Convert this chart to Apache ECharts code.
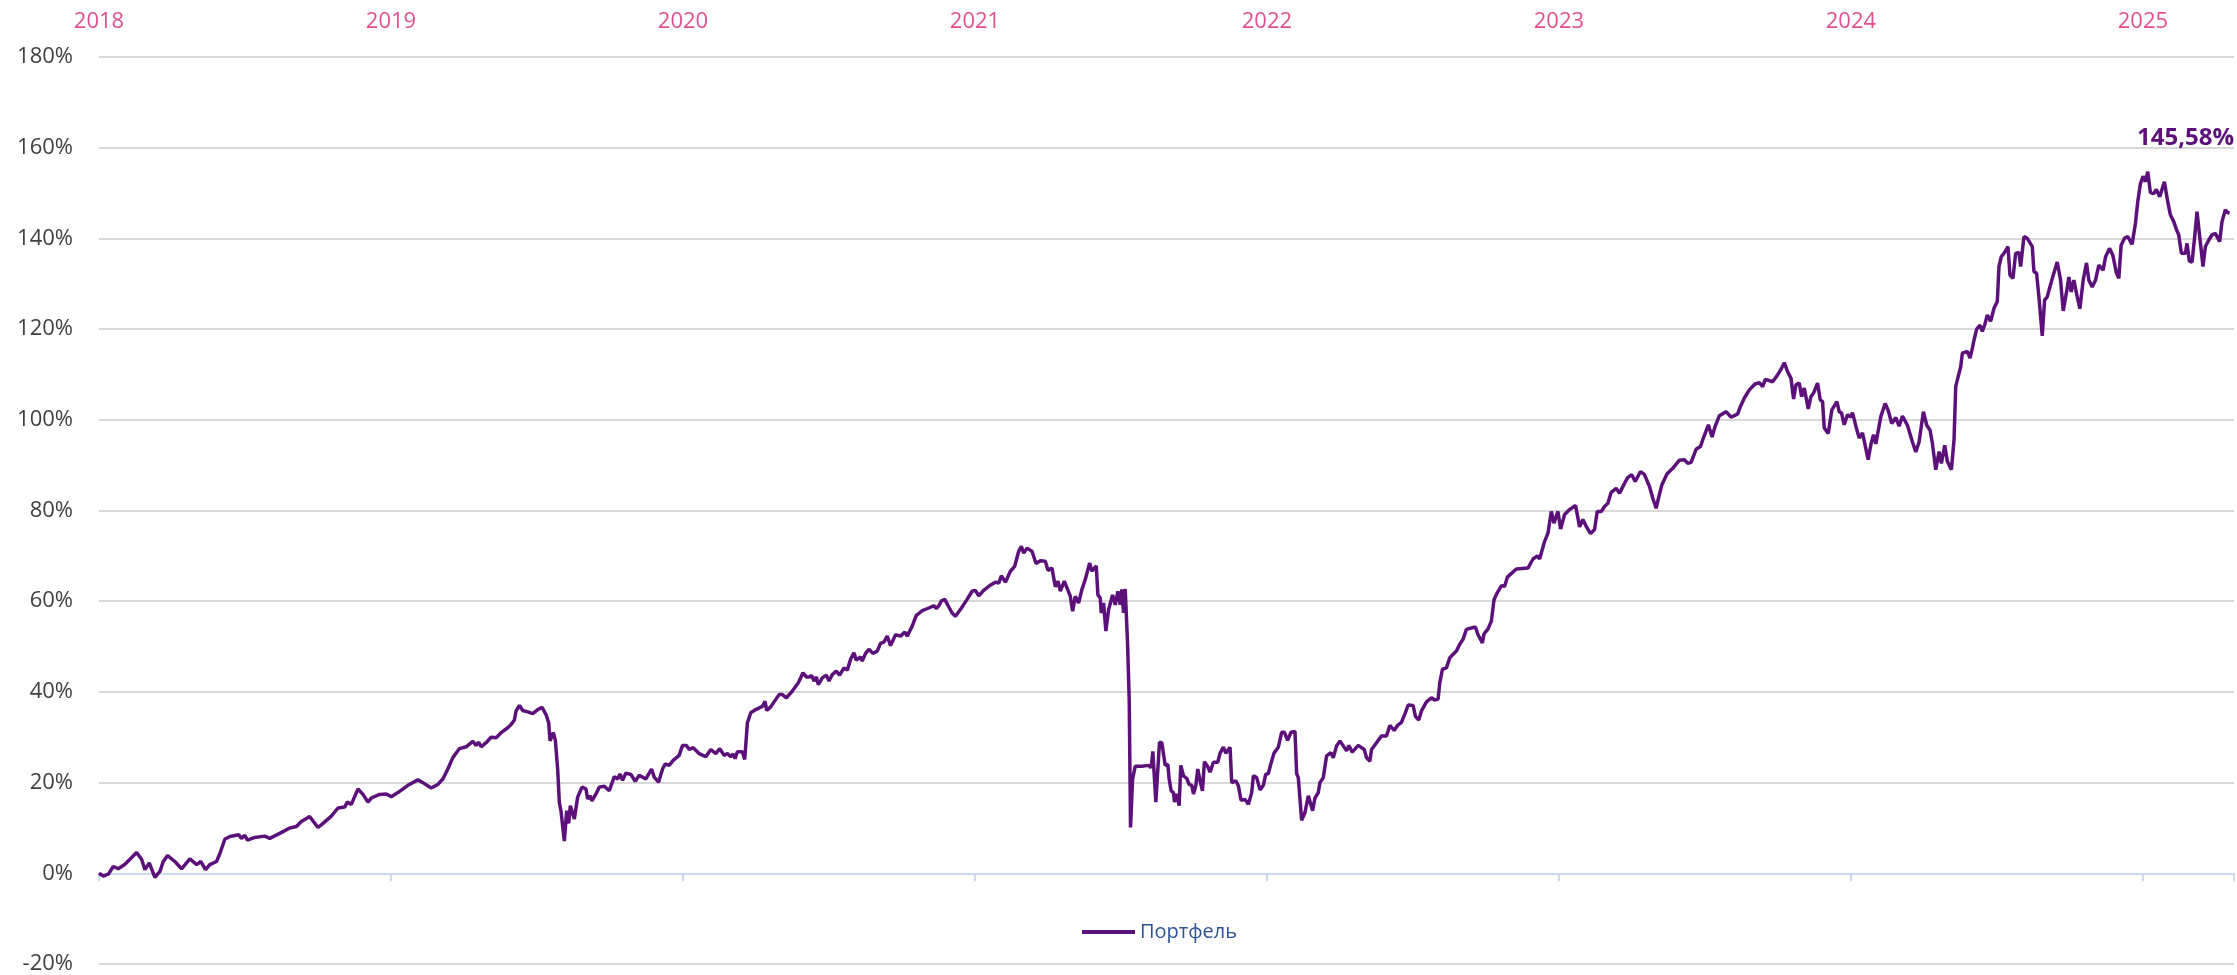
<!DOCTYPE html>
<html>
<head>
<meta charset="utf-8">
<title>Портфель</title>
<script src="https://cdn.jsdelivr.net/npm/echarts@6/dist/echarts.min.js"></script>
<style>
  html, body { margin: 0; padding: 0; background: #fff; }
  #chart { width: 2237px; height: 975px; }
</style>
</head>
<body>
<div id="chart"></div>
<script>
// доходность портфеля, % — позиция по оси X в долях года
const seriesName = 'Портфель';
const yearPos = [
  2018.0000, 2018.0148, 2018.0319, 2018.0490, 2018.0661, 2018.0889, 2018.1060, 2018.1288, 2018.1459, 2018.1573,
  2018.1721, 2018.1915, 2018.2086, 2018.2200, 2018.2348, 2018.2599, 2018.2827, 2018.3112, 2018.3340, 2018.3488,
  2018.3648, 2018.3796, 2018.4024, 2018.4138, 2018.4309, 2018.4480, 2018.4788, 2018.4879, 2018.4993, 2018.5084,
  2018.5335, 2018.5677, 2018.5848, 2018.6190, 2018.6532, 2018.6760, 2018.6931, 2018.7216, 2018.7501, 2018.7672,
  2018.7957, 2018.8185, 2018.8413, 2018.8504, 2018.8641, 2018.8869, 2018.9040, 2018.9211, 2018.9325, 2018.9610,
  2018.9838, 2019.0009, 2019.0237, 2019.0579, 2019.0921, 2019.1092, 2019.1377, 2019.1605, 2019.1776, 2019.1947,
  2019.2118, 2019.2346, 2019.2574, 2019.2802, 2019.2916, 2019.3007, 2019.3087, 2019.3258, 2019.3429, 2019.3600,
  2019.3771, 2019.3999, 2019.4113, 2019.4227, 2019.4284, 2019.4398, 2019.4512, 2019.4683, 2019.4854, 2019.5025,
  2019.5173, 2019.5310, 2019.5401, 2019.5447, 2019.5561, 2019.5629, 2019.5709, 2019.5766, 2019.5823, 2019.5937,
  2019.6017, 2019.6085, 2019.6142, 2019.6279, 2019.6393, 2019.6541, 2019.6678, 2019.6735, 2019.6815, 2019.6883,
  2019.7020, 2019.7134, 2019.7305, 2019.7476, 2019.7647, 2019.7761, 2019.7841, 2019.7932, 2019.8046, 2019.8217,
  2019.8365, 2019.8502, 2019.8730, 2019.8924, 2019.9015, 2019.9163, 2019.9300, 2019.9391, 2019.9528, 2019.9665,
  2019.9870, 2019.9984, 2020.0121, 2020.0212, 2020.0349, 2020.0554, 2020.0782, 2020.0953, 2020.1124, 2020.1261,
  2020.1409, 2020.1523, 2020.1637, 2020.1716, 2020.1785, 2020.1864, 2020.2036, 2020.2115, 2020.2207, 2020.2321,
  2020.2492, 2020.2720, 2020.2811, 2020.2868, 2020.3005, 2020.3290, 2020.3404, 2020.3541, 2020.3746, 2020.3951,
  2020.4111, 2020.4225, 2020.4316, 2020.4407, 2020.4487, 2020.4567, 2020.4635, 2020.4772, 2020.4909, 2020.5000,
  2020.5114, 2020.5251, 2020.5365, 2020.5513, 2020.5627, 2020.5741, 2020.5855, 2020.5934, 2020.6083, 2020.6140,
  2020.6254, 2020.6368, 2020.6505, 2020.6653, 2020.6767, 2020.6881, 2020.6995, 2020.7109, 2020.7280, 2020.7451,
  2020.7599, 2020.7679, 2020.7850, 2020.7987, 2020.8192, 2020.8420, 2020.8591, 2020.8671, 2020.8762, 2020.8853,
  2020.8967, 2020.9081, 2020.9218, 2020.9332, 2020.9537, 2020.9731, 2020.9902, 2021.0016, 2021.0130, 2021.0301,
  2021.0495, 2021.0700, 2021.0814, 2021.0905, 2021.1042, 2021.1213, 2021.1361, 2021.1498, 2021.1589, 2021.1669,
  2021.1783, 2021.1954, 2021.2091, 2021.2239, 2021.2410, 2021.2501, 2021.2638, 2021.2752, 2021.2843, 2021.2923,
  2021.3060, 2021.3185, 2021.3265, 2021.3345, 2021.3436, 2021.3550, 2021.3664, 2021.3778, 2021.3926, 2021.4006,
  2021.4154, 2021.4211, 2021.4291, 2021.4325, 2021.4405, 2021.4484, 2021.4576, 2021.4713, 2021.4804, 2021.4895,
  2021.4975, 2021.5032, 2021.5089, 2021.5146, 2021.5226, 2021.5283, 2021.5328, 2021.5397, 2021.5488, 2021.5716,
  2021.5944, 2021.6035, 2021.6092, 2021.6195, 2021.6320, 2021.6400, 2021.6514, 2021.6605, 2021.6651, 2021.6719,
  2021.6799, 2021.6833, 2021.6913, 2021.6993, 2021.7050, 2021.7141, 2021.7255, 2021.7335, 2021.7426, 2021.7483,
  2021.7563, 2021.7631, 2021.7711, 2021.7791, 2021.7859, 2021.7973, 2021.8053, 2021.8167, 2021.8315, 2021.8395,
  2021.8509, 2021.8589, 2021.8737, 2021.8794, 2021.8931, 2021.9022, 2021.9113, 2021.9250, 2021.9364, 2021.9478,
  2021.9535, 2021.9649, 2021.9764, 2021.9877, 2021.9957, 2022.0048, 2022.0128, 2022.0242, 2022.0390, 2022.0504,
  2022.0595, 2022.0709, 2022.0823, 2022.0960, 2022.1017, 2022.1074, 2022.1188, 2022.1302, 2022.1416, 2022.1473,
  2022.1564, 2022.1644, 2022.1758, 2022.1815, 2022.1929, 2022.2043, 2022.2191, 2022.2271, 2022.2385, 2022.2499,
  2022.2613, 2022.2727, 2022.2807, 2022.2921, 2022.3126, 2022.3331, 2022.3411, 2022.3525, 2022.3582, 2022.3753,
  2022.3924, 2022.4095, 2022.4209, 2022.4357, 2022.4471, 2022.4608, 2022.4722, 2022.4836, 2022.5007, 2022.5086,
  2022.5200, 2022.5292, 2022.5463, 2022.5634, 2022.5748, 2022.5862, 2022.5919, 2022.6010, 2022.6147, 2022.6261,
  2022.6375, 2022.6489, 2022.6603, 2022.6717, 2022.6831, 2022.7002, 2022.7139, 2022.7230, 2022.7378, 2022.7435,
  2022.7572, 2022.7686, 2022.7777, 2022.7891, 2022.8028, 2022.8142, 2022.8233, 2022.8541, 2022.8940, 2022.9111,
  2022.9259, 2022.9339, 2022.9510, 2022.9624, 2022.9738, 2022.9829, 2022.9966, 2023.0057, 2023.0194, 2023.0365,
  2023.0570, 2023.0707, 2023.0821, 2023.0935, 2023.1083, 2023.1220, 2023.1311, 2023.1448, 2023.1562, 2023.1676,
  2023.1790, 2023.1961, 2023.2075, 2023.2223, 2023.2360, 2023.2497, 2023.2611, 2023.2793, 2023.2930, 2023.3101,
  2023.3215, 2023.3329, 2023.3409, 2023.3523, 2023.3705, 2023.3899, 2023.4127, 2023.4298, 2023.4412, 2023.4526,
  2023.4697, 2023.4845, 2023.4959, 2023.5119, 2023.5244, 2023.5347, 2023.5495, 2023.5723, 2023.5894, 2023.6008,
  2023.6122, 2023.6213, 2023.6350, 2023.6521, 2023.6715, 2023.6863, 2023.6977, 2023.7068, 2023.7319, 2023.7490,
  2023.7604, 2023.7718, 2023.7832, 2023.7946, 2023.8037, 2023.8117, 2023.8231, 2023.8311, 2023.8402, 2023.8539,
  2023.8630, 2023.8721, 2023.8858, 2023.8949, 2023.9029, 2023.9086, 2023.9223, 2023.9348, 2023.9519, 2023.9599,
  2023.9679, 2023.9770, 2023.9884, 2023.9998, 2024.0055, 2024.0169, 2024.0283, 2024.0397, 2024.0591, 2024.0682,
  2024.0773, 2024.0853, 2024.1024, 2024.1172, 2024.1275, 2024.1400, 2024.1537, 2024.1651, 2024.1765, 2024.1936,
  2024.2107, 2024.2221, 2024.2335, 2024.2483, 2024.2597, 2024.2711, 2024.2791, 2024.2905, 2024.3019, 2024.3099,
  2024.3213, 2024.3304, 2024.3441, 2024.3532, 2024.3589, 2024.3646, 2024.3760, 2024.3817, 2024.3988, 2024.4079,
  2024.4159, 2024.4216, 2024.4307, 2024.4421, 2024.4501, 2024.4581, 2024.4672, 2024.4786, 2024.4900, 2024.5014,
  2024.5071, 2024.5151, 2024.5242, 2024.5379, 2024.5447, 2024.5550, 2024.5641, 2024.5755, 2024.5812, 2024.5926,
  2024.6040, 2024.6211, 2024.6268, 2024.6359, 2024.6439, 2024.6553, 2024.6633, 2024.6724, 2024.6815, 2024.6929,
  2024.7066, 2024.7180, 2024.7271, 2024.7385, 2024.7465, 2024.7544, 2024.7636, 2024.7727, 2024.7841, 2024.7955,
  2024.8069, 2024.8149, 2024.8263, 2024.8377, 2024.8491, 2024.8639, 2024.8719, 2024.8856, 2024.8970, 2024.9095,
  2024.9175, 2024.9254, 2024.9368, 2024.9482, 2024.9630, 2024.9744, 2024.9824, 2024.9915, 2025.0006, 2025.0086,
  2025.0166, 2025.0257, 2025.0371, 2025.0463, 2025.0577, 2025.0736, 2025.0850, 2025.0941, 2025.1055, 2025.1147,
  2025.1226, 2025.1318, 2025.1455, 2025.1511, 2025.1591, 2025.1683, 2025.1774, 2025.1854, 2025.1945, 2025.2059,
  2025.2139, 2025.2253, 2025.2367, 2025.2481, 2025.2629, 2025.2709, 2025.2823, 2025.2903, 2025.2971
];
const portfolio = [
  0.0, -0.6, -0.2, 1.5, 1.0, 2.0, 3.1, 4.6, 3.1, 0.8,
  2.3, -0.9, 0.4, 2.6, 3.9, 2.6, 1.0, 3.2, 1.9, 2.6,
  0.8, 1.9, 2.6, 4.3, 7.5, 8.1, 8.5, 7.7, 8.4, 7.3,
  7.9, 8.2, 7.7, 8.8, 10.0, 10.3, 11.4, 12.5, 10.1, 11.0,
  12.6, 14.4, 14.6, 15.7, 15.2, 18.6, 17.4, 15.7, 16.6, 17.4,
  17.5, 16.9, 17.8, 19.4, 20.6, 20.0, 18.8, 19.6, 20.8, 23.0,
  25.5, 27.5, 27.9, 29.1, 28.2, 28.9, 27.9, 28.8, 30.0, 29.9,
  31.0, 32.1, 32.8, 33.8, 35.8, 37.0, 35.9, 35.6, 35.2, 36.1,
  36.6, 35.0, 33.2, 29.2, 31.0, 29.3, 22.9, 15.6, 13.7, 7.1,
  13.8, 11.0, 14.9, 12.0, 16.8, 19.0, 18.6, 16.4, 17.1, 16.0,
  17.5, 19.0, 19.2, 18.2, 21.3, 20.8, 21.9, 20.5, 22.1, 21.8,
  20.3, 21.6, 20.8, 23.0, 21.2, 20.1, 23.0, 24.1, 23.8, 24.9,
  26.0, 28.2, 28.2, 27.3, 27.7, 26.4, 25.7, 27.3, 26.4, 27.5,
  26.0, 26.4, 25.7, 26.3, 25.3, 26.8, 26.8, 25.1, 33.2, 35.4,
  36.1, 36.8, 37.9, 35.9, 36.7, 39.4, 39.4, 38.7, 40.2, 42.0,
  44.2, 43.3, 43.3, 43.6, 42.4, 43.3, 41.6, 43.1, 43.7, 42.4,
  43.8, 44.6, 43.7, 45.3, 44.8, 47.2, 48.6, 47.0, 47.7, 46.8,
  48.5, 49.4, 48.5, 49.0, 50.7, 51.0, 52.3, 50.2, 52.6, 52.3,
  53.2, 52.3, 54.5, 56.8, 57.9, 58.5, 59.0, 58.4, 59.0, 60.1,
  60.4, 59.0, 57.4, 56.7, 58.5, 60.4, 62.2, 62.4, 61.2, 62.4,
  63.4, 64.2, 64.0, 65.6, 64.2, 66.6, 67.7, 71.0, 72.1, 70.6,
  71.7, 71.0, 68.3, 68.9, 68.8, 66.8, 67.3, 63.2, 64.4, 62.2,
  64.4, 62.4, 61.1, 57.8, 61.1, 59.6, 62.6, 64.8, 68.4, 66.6,
  67.8, 61.4, 60.7, 57.4, 59.6, 53.4, 58.1, 61.4, 59.2, 62.2,
  59.2, 62.6, 57.4, 62.7, 50.8, 38.3, 10.1, 20.7, 23.6, 23.6,
  23.8, 23.3, 26.9, 15.7, 28.9, 28.8, 23.8, 24.0, 20.8, 18.2,
  17.8, 15.7, 17.5, 14.9, 23.8, 21.5, 20.9, 19.6, 19.4, 17.5,
  19.3, 23.0, 20.4, 18.2, 24.6, 23.5, 22.3, 24.5, 24.5, 26.5,
  27.8, 26.5, 27.8, 20.0, 20.4, 19.3, 16.1, 16.3, 15.2, 17.8,
  21.5, 21.1, 18.4, 19.4, 21.8, 22.0, 24.0, 26.5, 27.8, 31.1,
  31.1, 29.3, 31.1, 31.3, 22.0, 21.1, 11.7, 13.4, 17.1, 17.5,
  13.8, 16.6, 17.8, 20.0, 21.1, 25.9, 26.6, 25.5, 28.1, 29.2,
  28.1, 27.0, 28.2, 26.7, 28.2, 27.3, 25.5, 24.7, 27.3, 28.8,
  30.3, 30.3, 32.6, 31.5, 32.6, 33.3, 35.1, 37.1, 37.0, 34.6,
  33.8, 35.8, 37.8, 38.7, 38.2, 38.4, 42.0, 45.0, 45.3, 47.5,
  48.3, 49.0, 50.5, 51.6, 53.8, 54.1, 54.3, 52.6, 50.8, 52.8,
  53.9, 55.6, 60.3, 61.9, 63.4, 63.3, 65.3, 67.1, 67.3, 69.3,
  70.0, 69.3, 73.2, 75.0, 79.8, 77.2, 79.8, 75.9, 79.1, 80.2,
  81.1, 76.4, 78.0, 76.5, 74.9, 75.8, 79.8, 79.8, 80.9, 81.6,
  84.0, 84.9, 83.8, 85.7, 87.3, 87.9, 86.4, 88.6, 87.9, 85.3,
  82.7, 80.5, 82.7, 85.6, 88.1, 89.3, 91.1, 91.2, 90.4, 90.6,
  93.5, 94.1, 96.2, 98.9, 96.2, 98.5, 100.9, 101.8, 100.6, 100.9,
  101.3, 102.9, 104.8, 106.6, 107.9, 108.2, 107.3, 108.9, 108.4, 109.9,
  111.1, 112.6, 110.6, 109.2, 104.6, 107.7, 108.1, 105.1, 107.0, 102.4,
  105.1, 105.9, 108.1, 104.4, 104.0, 98.2, 97.0, 102.2, 104.0, 101.8,
  101.5, 98.9, 101.1, 100.6, 101.6, 98.6, 96.0, 97.1, 91.2, 94.5,
  96.7, 94.7, 100.7, 103.6, 102.1, 99.2, 100.5, 98.6, 100.8, 98.8,
  95.1, 92.9, 95.1, 101.8, 98.8, 97.7, 94.8, 89.0, 93.0, 90.4,
  94.4, 90.8, 89.0, 95.6, 107.3, 108.8, 111.7, 114.7, 115.1, 113.6,
  115.8, 117.6, 120.0, 120.9, 119.5, 120.9, 123.1, 121.7, 124.6, 126.1,
  133.8, 136.0, 136.7, 138.2, 131.9, 131.2, 136.7, 136.9, 133.8, 140.4,
  140.0, 138.2, 132.7, 132.3, 127.1, 118.5, 126.4, 127.1, 129.3, 131.9,
  134.8, 130.8, 124.0, 128.2, 131.5, 128.2, 130.8, 127.8, 124.5, 130.8,
  134.6, 130.8, 129.3, 130.8, 134.1, 133.0, 135.9, 137.8, 136.3, 132.3,
  131.2, 138.5, 140.0, 140.4, 138.7, 143.3, 148.1, 152.1, 153.7, 152.5,
  154.7, 150.1, 149.9, 150.8, 149.2, 152.5, 148.1, 145.2, 143.7, 142.0,
  140.8, 136.7, 136.7, 138.9, 135.0, 134.8, 140.4, 145.9, 140.4, 133.8,
  138.2, 139.6, 140.8, 141.1, 139.3, 143.7, 146.3, 145.7, 145.58
];

const FONT = '"Open Sans", "Noto Sans", sans-serif';
const lineColor = '#5b1179';
const lastIdx = portfolio.length - 1;

const chart = echarts.init(document.getElementById('chart'));

chart.setOption({
  animation: false,
  backgroundColor: '#fff',
  textStyle: { fontFamily: FONT },
  grid: { left: 99, right: 0, top: 57, bottom: 9 },
  legend: {
    data: [{ name: seriesName, icon: 'rect' }],
    left: 1082,
    top: 922,
    padding: 0,
    itemWidth: 53,
    itemHeight: 4,
    itemStyle: { color: lineColor },
    textStyle: { color: '#2f5496', fontSize: 20, fontFamily: FONT }
  },
  xAxis: [
    {
      // нижняя ось: линия по нулю с засечками
      type: 'value',
      min: 2018,
      max: 2025.312,
      interval: 1,
      position: 'bottom',
      axisLine: { onZero: true, lineStyle: { color: '#c9dbf2', width: 2 } },
      axisTick: { show: true, length: 8, lineStyle: { color: '#c9dbf2', width: 2 } },
      axisLabel: { show: false },
      splitLine: { show: false }
    },
    {
      // верхняя ось: подписи годов
      type: 'value',
      min: 2018,
      max: 2025.312,
      interval: 1,
      position: 'top',
      axisLine: { show: false },
      axisTick: { show: false },
      splitLine: { show: false },
      axisLabel: {
        color: '#e0508f',
        fontSize: 22,
        margin: 24,
        fontFamily: FONT,
        formatter: (v) => (Number.isInteger(v) ? String(v) : '')
      }
    }
  ],
  yAxis: {
    type: 'value',
    min: -20,
    max: 180,
    interval: 20,
    axisLine: { show: false },
    axisTick: { show: false },
    axisLabel: { formatter: '{value}%', color: '#404040', fontSize: 22, margin: 26, fontFamily: FONT },
    splitLine: { lineStyle: { color: '#d9d9d9', width: 2 } }
  },
  series: [
    {
      name: seriesName,
      type: 'line',
      xAxisIndex: 0,
      data: yearPos.map((t, i) => [t, portfolio[i]]),
      symbol: 'none',
      lineStyle: { color: lineColor, width: 3.5 },
      itemStyle: { color: lineColor },
      markPoint: {
        symbol: 'circle',
        symbolSize: 0,
        data: [{ coord: [yearPos[lastIdx], portfolio[lastIdx]] }],
        label: {
          show: true,
          position: 'inside',
          offset: [-44, -75],
          color: lineColor,
          fontWeight: 'bold',
          fontSize: 24,
          fontFamily: FONT,
          formatter: () => portfolio[lastIdx].toFixed(2).replace('.', ',') + '%'
        }
      }
    }
  ]
});
</script>
</body>
</html>
